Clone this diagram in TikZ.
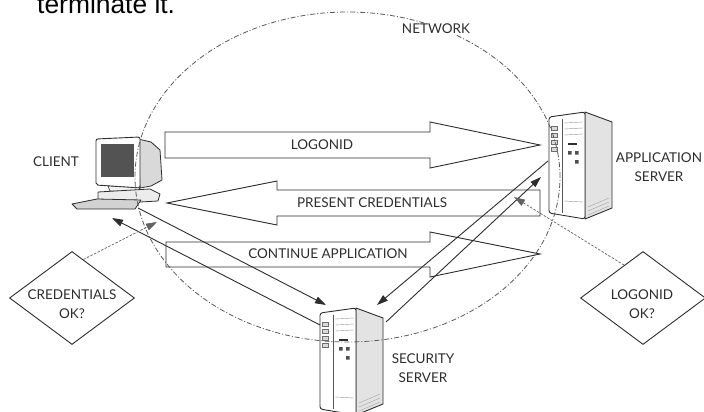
\documentclass[tikz,border=0pt]{standalone}
\usepackage{fontspec}
\setmainfont{Lato}
\newfontfamily\headfont{Liberation Sans}
\usetikzlibrary{arrows.meta,shapes.geometric,calc}

\definecolor{ink}{HTML}{2E2E2E}

\tikzset{
  % tower server seen from the front left; origin = top left corner of the front panel
  tower/.pic={
    \draw[ink, line width=0.9pt, fill=gray!22, line join=round]
      (36,-5) -- (63,5) -- (63,91) -- (36,102) -- cycle;
    \draw[ink, line width=0.9pt, fill=white, rounded corners=2.5pt, line join=round]
      (36,102) -- (0,96) -- (0,0) -- (36,-5) -- cycle;
    \draw[ink!80, line width=0.5pt] (13,2) -- (13,96);
    \foreach \yy in {9,16,23,30}
      \draw[ink!70, line width=0.5pt, fill=gray!30] (2.5,\yy) rectangle (8.5,\yy+4.5);
    \foreach \yy in {6,12,18}
      \draw[ink!50, line width=0.4pt] (15,\yy) -- (34,\yy-1);
    \draw[ink, line width=1.4pt] (19,27) -- (28,27);
    \fill[ink!85] (19,34) rectangle (22.5,37.5) (26,34) rectangle (29.5,37.5)
                  (26,43) rectangle (29.5,46.5);
    \draw[ink!50, line width=0.4pt] (15,84) -- (34,85);
    \foreach \d in {0,4,8}
      \draw[ink!45, line width=0.4pt] (39,98-\d) -- (60,89-\d);
  }
}

\begin{document}
\begin{tikzpicture}[x=1pt,y=-1pt,
  lbl/.style={font=\fontsize{13.5}{19}\selectfont, text=ink, inner sep=1pt, align=center},
  blockarrow/.style={draw=ink, line width=0.9pt, fill=white, line join=miter},
  msg/.style={draw=ink, line width=0.9pt, -{Triangle[length=11pt,width=7pt]}},
  callout/.style={draw=ink!75, line width=0.7pt, dash pattern=on 2.5pt off 1.5pt,
                  -{Triangle[length=11pt,width=7pt]}},
  netline/.style={draw=ink!80, line width=0.8pt, dash pattern=on 5pt off 2pt on 1pt off 2pt},
  decision/.style={diamond, draw=ink, line width=0.9pt, inner sep=0pt,
                   minimum width=125pt, minimum height=93pt},
]
\clip (0,0) rectangle (704,412);
\fill[white] (0,0) rectangle (704,412);

% heading line from the surrounding text
\node[anchor=base west, inner sep=0pt, font=\headfont\fontsize{26.4}{30}\selectfont]
  (caption) at (37,14) {terminate it.};

% message block arrows
\draw[blockarrow] (165,132) -- (430,132) -- (430,122) -- (540,145)
  -- (430,168) -- (430,158) -- (165,158) -- cycle;
\node[lbl] (logonid) at (322,145) {LOGONID};

\draw[blockarrow] (167,203) -- (277,181) -- (277,190) -- (540,190)
  -- (540,216) -- (277,216) -- (277,225) -- cycle;
\node[lbl] (present) at (372,203) {PRESENT CREDENTIALS};

\draw[blockarrow] (166,242) -- (430,242) -- (430,232) -- (540,254)
  -- (430,277) -- (430,267) -- (166,267) -- cycle;
\node[lbl] (continue) at (328,254) {CONTINUE APPLICATION};

% client workstation
\draw[ink, line width=0.8pt, fill=gray!30, line join=round]
  (138,139) -- (151,142) -- (160,150) -- (162,180) -- (151,186) -- (140,188) -- cycle;
\draw[ink, line width=0.9pt, fill=white, rounded corners=2pt]
  (96,139) -- (140,137) -- (140,188) -- (96,185) -- cycle;
\fill[gray!65!black] (101,144) rectangle (134,177);
\draw[ink, line width=0.6pt, fill=gray!10] (108,186) -- (140,188) -- (138,192) -- (110,191) -- cycle;
\draw[ink, line width=0.8pt, fill=gray!15, line join=round]
  (98,192) -- (150,189) -- (160,194) -- (158,201) -- (104,204) -- (98,199) -- cycle;
\draw[ink, line width=0.8pt, fill=gray!35, line join=round]
  (72,204) -- (97,199) -- (141,200) -- (135,209) -- (77,209) -- cycle;
\node[lbl] (clientlbl) at (56,162) {CLIENT};

% servers
\pic at (549,117) {tower};
\node[lbl] (appsrv) at (659,167) {APPLICATION\\SERVER};
\pic at (320,313) {tower};
\node[lbl] (secsrv) at (423,368) {SECURITY\\SERVER};

% attachment points on the machines
\coordinate (cl-out) at (138,208);
\coordinate (cl-in1) at (112,218);
\coordinate (cl-in2) at (157,222);
\coordinate (ss-in1) at (326,305);
\coordinate (ss-out1) at (320,325);
\coordinate (ss-in2) at (377,305);
\coordinate (ss-out2) at (386,322);
\coordinate (as-out) at (548,161);
\coordinate (as-in) at (541,177);
\coordinate (pc-mark) at (514,197);

% decisions
\node[decision] (cred) at (72,298) {};
\node[lbl] (credtxt) at (72,304) {CREDENTIALS\\OK?};
\node[decision] (logon) at (643,298) {};
\node[lbl] (logontxt) at (642,304) {LOGONID\\OK?};

% authentication traffic
\draw[msg] (cl-out) -- (ss-in1);
\draw[msg] (ss-out1) -- (cl-in1);
\draw[msg] (as-out) -- (ss-in2);
\draw[msg] (ss-out2) -- (as-in);
\draw[callout] ($(cred.north)!0.18!(cred.east)$) -- (cl-in2);
\draw[callout] ($(logon.north)!0.3!(logon.west)$) -- (pc-mark);

% network boundary
\node[ellipse, netline, minimum width=425pt, minimum height=330pt, inner sep=0pt]
  (network) at (347.5,177) {};
\node[lbl, fill=white, inner sep=1.5pt] (netlbl) at (436,29) {NETWORK};
\end{tikzpicture}
\end{document}
